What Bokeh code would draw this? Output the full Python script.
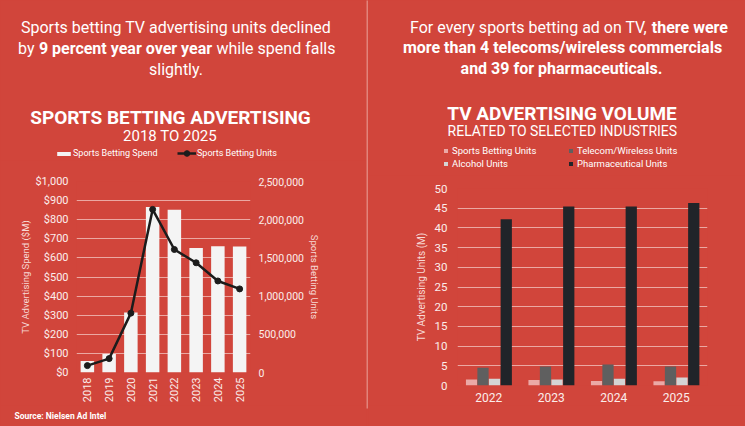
import math
from bokeh.plotting import figure
from bokeh.layouts import row, column
from bokeh.models import (ColumnDataSource, FactorRange, Range1d, LinearAxis, FixedTicker,
                          NumeralTickFormatter, Legend, LegendItem, Label)
from bokeh.transform import dodge
from bokeh.embed import file_html
from bokeh.resources import INLINE

# ---------------- data ----------------
years = ["2018", "2019", "2020", "2021", "2022", "2023", "2024", "2025"]
spend = [60, 97, 314, 866, 852, 652, 661, 660]                 # $M
units = [90000, 182000, 777000, 2135000, 1610000, 1436000, 1198000, 1094000]

ryears = ["2022", "2023", "2024", "2025"]
sports_units = [1.55, 1.4, 1.15, 1.05]
telecom_units = [4.5, 4.85, 5.3, 4.85]
alcohol_units = [1.7, 1.55, 1.7, 2.0]
pharma_units = [42.2, 45.4, 45.4, 46.3]

left_ticks = list(range(0, 1001, 100))
right_ticks = [0, 500000, 1000000, 1500000, 2000000, 2500000]
units_ticks = list(range(0, 51, 5))

# ---------------- style ----------------
BG = "#D1453B"
GRID = "#EBA8A2"
DIV = "#E2837B"
TXT = "#FFFFFF"
TICK = "#FBEDEB"
ATITLE = "#F7D9D5"
FONT = "Roboto"
C_SPEND = "#F4F4F4"
C_LINE = "#1C1C1C"
C_SPORTS = "#EBA9A6"
C_TEL = "#5F5F5F"
C_ALC = "#D4D4D4"
C_PHARMA = "#212429"
BGSTYLE = {"background-color": BG}
NAN = float("nan")


def style_axis(ax, size, label_size):
    ax.axis_line_color = None
    ax.major_tick_line_color = None
    ax.minor_tick_line_color = None
    ax.major_tick_out = 0
    ax.major_tick_in = 0
    ax.minor_tick_out = 0
    ax.major_label_text_color = TICK
    ax.major_label_text_font = FONT
    ax.major_label_text_font_size = size
    ax.axis_label_text_color = ATITLE
    ax.axis_label_text_font = FONT
    ax.axis_label_text_font_style = "normal"
    ax.axis_label_text_font_size = label_size


def blank(w, h):
    f = figure(width=w, height=h, x_range=Range1d(0, w), y_range=Range1d(h, 0),
               output_backend="svg", toolbar_location=None,
               x_axis_location=None, y_axis_location=None, frame_align=False,
               min_border_left=0, min_border_right=0, min_border_top=0, min_border_bottom=0)
    f.background_fill_color = BG
    f.border_fill_color = BG
    f.outline_line_color = None
    f.grid.visible = False
    return f


def lab(fig, x, y, text, size, bold=False, align="center", color=TXT):
    fig.add_layout(Label(x=x, y=y, text=text,
                         text_font=FONT, text_font_size=size,
                         text_font_style="bold" if bold else "normal",
                         text_align=align, text_baseline="alphabetic", text_color=color))


def legend(items, x, y_bottom, gw, gh, size, lh, standoff):
    return Legend(items=items, location=(x, y_bottom), orientation="vertical",
                  background_fill_alpha=0, border_line_color=None, padding=0, margin=0,
                  glyph_width=gw, glyph_height=gh, label_standoff=standoff, spacing=0,
                  label_height=lh, label_text_color=TXT, label_text_font=FONT,
                  label_text_font_size=size)


def swatch(fig, color):
    # legend-only bar renderer (its single point is NaN, so nothing is drawn in the plot)
    return fig.vbar(x=[NAN], top=[NAN], width=1, fill_color=color, line_color=None)


# ================= LEFT COLUMN =================
tl = blank(366, 160)
lab(tl, 175.5, 27, "Sports betting TV advertising units declined", "16px")
lab(tl, 34, 48, "by", "16px", align="right")
lab(tl, 125, 48, "9 percent year over year", "16px", bold=True)
lab(tl, 216, 48, "while spend falls", "16px", align="left")
lab(tl, 175.5, 69, "slightly.", "16px")
lab(tl, 170, 116.5, "SPORTS BETTING ADVERTISING", "19px", bold=True)
lab(tl, 169.5, 135, "2018 TO 2025", "15px")

lg_bar = swatch(tl, C_SPEND)
lg_line = tl.line(x=[NAN], y=[NAN], line_color=C_LINE, line_width=2.5)
lg_dot = tl.scatter(x=[NAN], y=[NAN], size=5, fill_color=C_LINE, line_color=C_LINE)
tl.add_layout(legend([LegendItem(label="Sports Betting Spend", renderers=[lg_bar])],
                     55, 1, 17, 5, "9px", 12, 1))
tl.add_layout(legend([LegendItem(label="Sports Betting Units", renderers=[lg_line, lg_dot])],
                     177, 0, 19, 14, "9px", 14, 1))

src = ColumnDataSource(dict(year=years, spend=spend, units=units))
p = figure(width=366, height=245, x_range=FactorRange(*years), y_range=Range1d(0, 1000),
           output_backend="svg", toolbar_location=None, frame_align=False,
           min_border_left=76, min_border_right=116, min_border_top=21, min_border_bottom=32)
p.background_fill_color = BG
p.border_fill_color = BG
p.outline_line_color = None
p.xgrid.visible = False
p.ygrid.ticker = FixedTicker(ticks=left_ticks)
p.ygrid.grid_line_color = GRID
p.ygrid.grid_line_width = 1

ly = p.left[0]
ly.ticker = FixedTicker(ticks=left_ticks)
ly.formatter = NumeralTickFormatter(format="$0,0")
ly.axis_label = "TV Advertising Spend ($M)"
style_axis(ly, "11px", "9.5px")
ly.major_label_standoff = 8
ly.axis_label_standoff = 1

lx = p.below[0]
style_axis(lx, "11px", "9px")
lx.major_label_orientation = math.pi / 2
lx.major_label_standoff = 5

p.extra_y_ranges = {"units": Range1d(0, 2500000)}
ry = LinearAxis(y_range_name="units", ticker=FixedTicker(ticks=right_ticks),
                formatter=NumeralTickFormatter(format="0,0"), axis_label="Sports Betting Units")
style_axis(ry, "10.5px", "9.5px")
ry.major_label_standoff = 8
ry.axis_label_standoff = 2
p.add_layout(ry, "right")

p.vbar(x="year", top="spend", width=0.62, source=src, fill_color=C_SPEND, line_color=None)
p.line(x="year", y="units", y_range_name="units", source=src, line_color=C_LINE, line_width=2.5)
p.scatter(x="year", y="units", y_range_name="units", source=src, size=6,
          fill_color=C_LINE, line_color=C_LINE)

bl = blank(366, 21)
lab(bl, 14, 10.7, "Source: Nielsen Ad Intel", "8.5px", bold=True, align="left")

left_col = column(tl, p, bl, spacing=0, styles=BGSTYLE)

# ================= DIVIDER =================
d = figure(width=2, height=426, output_backend="svg", toolbar_location=None,
           x_axis_location=None, y_axis_location=None, frame_align=False,
           min_border_left=0, min_border_right=0, min_border_top=0, min_border_bottom=18)
d.background_fill_color = DIV
d.border_fill_color = BG
d.outline_line_color = None
d.grid.visible = False

# ================= RIGHT COLUMN =================
tr = blank(377, 175)
lab(tr, 278.5, 27.3, "For every sports betting ad on TV,", "16px", align="right")
lab(tr, 283.3, 27.3, "there were", "16px", bold=True, align="left")
lab(tr, 194, 47.3, "more than 4 telecoms/wireless commercials", "16px", bold=True)
lab(tr, 193, 67.7, "and 39 for pharmaceuticals.", "16px", bold=True)
lab(tr, 193.5, 113.3, "TV ADVERTISING VOLUME", "19px", bold=True)
lab(tr, 194, 130.7, "RELATED TO SELECTED INDUSTRIES", "14px")

g1 = swatch(tr, C_SPORTS)
g2 = swatch(tr, C_TEL)
g3 = swatch(tr, C_ALC)
g4 = swatch(tr, C_PHARMA)
tr.add_layout(legend([LegendItem(label="Sports Betting Units", renderers=[g1]),
                      LegendItem(label="Alcohol Units", renderers=[g3])],
                     75, 5, 5, 5, "9.5px", 13, 4))
tr.add_layout(legend([LegendItem(label="Telecom/Wireless Units", renderers=[g2]),
                      LegendItem(label="Pharmaceutical Units", renderers=[g4])],
                     200, 5, 5, 5, "9.5px", 13, 4))

rsrc = ColumnDataSource(dict(year=ryears, sports=sports_units, telecom=telecom_units,
                             alcohol=alcohol_units, pharma=pharma_units))
q = figure(width=377, height=230, x_range=FactorRange(*ryears), y_range=Range1d(0, 50),
           output_backend="svg", toolbar_location=None, frame_align=False,
           min_border_left=89, min_border_right=38, min_border_top=13, min_border_bottom=20)
q.background_fill_color = BG
q.border_fill_color = BG
q.outline_line_color = None
q.xgrid.visible = False
q.ygrid.ticker = FixedTicker(ticks=units_ticks)
q.ygrid.grid_line_color = GRID
q.ygrid.grid_line_width = 1

qy = q.left[0]
qy.ticker = FixedTicker(ticks=units_ticks)
qy.axis_label = "TV Advertising Units (M)"
style_axis(qy, "11.5px", "10px")
qy.major_label_standoff = 10
qy.axis_label_standoff = 5

qx = q.below[0]
style_axis(qx, "12px", "10px")
qx.major_label_standoff = 7

w = 0.18
q.vbar(x=dodge("year", -0.275, range=q.x_range), top="sports", width=w, source=rsrc,
       fill_color=C_SPORTS, line_color=None)
q.vbar(x=dodge("year", -0.092, range=q.x_range), top="telecom", width=w, source=rsrc,
       fill_color=C_TEL, line_color=None)
q.vbar(x=dodge("year", 0.092, range=q.x_range), top="alcohol", width=w, source=rsrc,
       fill_color=C_ALC, line_color=None)
q.vbar(x=dodge("year", 0.28, range=q.x_range), top="pharma", width=w, source=rsrc,
       fill_color=C_PHARMA, line_color=None)

br = blank(377, 21)
right_col = column(tr, q, br, spacing=0, styles=BGSTYLE)

layout = row(left_col, d, right_col, spacing=0, styles=BGSTYLE)
open("out.html", "w").write(file_html(layout, INLINE))
